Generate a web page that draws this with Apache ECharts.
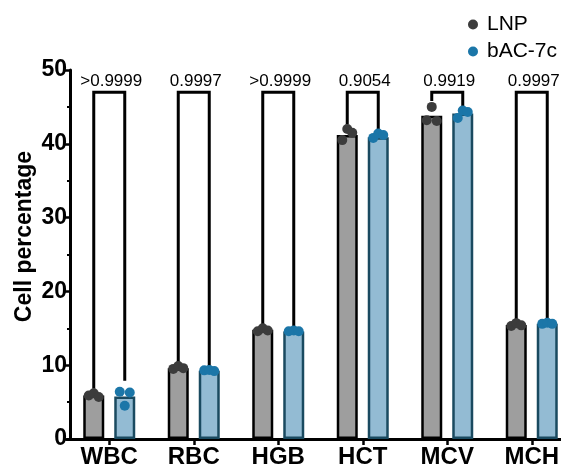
<!DOCTYPE html>
<html>
<head>
<meta charset="utf-8">
<script src="https://cdn.jsdelivr.net/npm/echarts@6/dist/echarts.min.js"></script>
<style>
  html, body { margin: 0; padding: 0; background: #fff; }
  #chart { width: 561px; height: 466px; }
</style>
</head>
<body>
<div id="chart"></div>
<script>
// Blood panel values per group (mean bars + three replicates each)
const categories = ['WBC', 'RBC', 'HGB', 'HCT', 'MCV', 'MCH'];
const lnpMean = [5.9, 9.6, 14.8, 41.2, 43.8, 15.45];
const bacMean = [5.75, 9.25, 14.55, 40.9, 44.1, 15.6];
const lnpPoints = [
  [5.9, 6.2, 5.7],
  [9.5, 9.9, 9.6],
  [14.6, 15.0, 14.7],
  [40.5, 42.0, 41.5],
  [43.2, 45.0, 43.1],
  [15.3, 15.7, 15.4]
];
const bacPoints = [
  [6.4, 4.5, 6.3],
  [9.3, 9.35, 9.2],
  [14.6, 14.7, 14.6],
  [40.8, 41.4, 41.2],
  [43.5, 44.5, 44.3],
  [15.6, 15.75, 15.6]
];
// Multiple-comparison p values and bracket geometry (in data units)
const pValues = ['>0.9999', '0.9997', '>0.9999', '0.9054', '0.9919', '0.9997'];
const bracketTop = 47;
const legLnp = [6.8, 10.2, 15.4, 42.6, 45.8, 16.1];
const legBac = [7.9, 9.8, 15.1, 41.8, 45.0, 16.3];
const yTicks = [0, 10, 20, 30, 40, 50];

const FONT = '"Liberation Sans", Arial, Helvetica, sans-serif';
const BAR_W = 21;
const BAR_GAP = 10;
const HALF = (BAR_W + BAR_GAP) / 2;   // bar centre offset from category centre
const JITTER = [-5, 0, 5];
const LNP_DOT = '#3c3c3c';
const BAC_DOT = '#1b76a8';

const chart = echarts.init(document.getElementById('chart'), null, { renderer: 'canvas' });

function dotSeries(name, points, side, color) {
  return {
    name: name,
    type: 'custom',
    z: 4,
    data: points.map((p, i) => [i].concat(p)),
    encode: { x: 0, y: [1, 2, 3] },
    renderItem: function (params, api) {
      const cat = api.value(0);
      const children = [];
      for (let k = 0; k < 3; k++) {
        const pt = api.coord([cat, api.value(k + 1)]);
        children.push({
          type: 'circle',
          shape: { cx: pt[0] + side * HALF + JITTER[k], cy: pt[1], r: 5 },
          style: { fill: color }
        });
      }
      return { type: 'group', children: children };
    }
  };
}

const option = {
  animation: false,
  backgroundColor: '#ffffff',
  grid: { left: 67, top: 70, width: 507, bottom: 27, containLabel: false, outerBoundsMode: 'none' },
  legend: {
    orient: 'vertical',
    left: 463,
    top: 9,
    itemWidth: 18,
    itemHeight: 10,
    itemGap: 6,
    icon: 'circle',
    selectedMode: false,
    textStyle: { fontFamily: FONT, fontSize: 21, color: '#000', lineHeight: 20 },
    data: [
      { name: 'LNP', itemStyle: { color: LNP_DOT } },
      { name: 'bAC-7c', itemStyle: { color: BAC_DOT } }
    ]
  },
  xAxis: {
    type: 'category',
    data: categories,
    boundaryGap: true,
    axisLine: { lineStyle: { color: '#000', width: 3 } },
    axisTick: { show: true, alignWithLabel: true, length: 6, lineStyle: { color: '#000', width: 2.5 } },
    axisLabel: { fontFamily: FONT, fontSize: 24, fontWeight: 'bold', color: '#000', margin: 6 },
    splitLine: { show: false }
  },
  yAxis: {
    type: 'value',
    min: yTicks[0],
    max: yTicks[yTicks.length - 1],
    interval: 10,
    offset: -3,
    name: 'Cell percentage',
    nameLocation: 'middle',
    nameGap: 34,
    nameMoveOverlap: false,
    nameTextStyle: { fontFamily: FONT, fontSize: 23, fontWeight: 'bold', color: '#000', padding: [0, 0, 0, 36] },
    axisLine: { show: true, lineStyle: { color: '#000', width: 3 } },
    axisTick: { show: true, length: 5, lineStyle: { color: '#000', width: 2.5 } },
    minorTick: { show: true, splitNumber: 2, length: 3, lineStyle: { color: '#000', width: 2 } },
    axisLabel: { fontFamily: FONT, fontSize: 23, fontWeight: 'bold', color: '#000', margin: 3 },
    splitLine: { show: false }
  },
  series: [
    {
      name: 'LNP mean',
      type: 'bar',
      data: lnpMean,
      barWidth: BAR_W,
      barGap: (BAR_GAP / BAR_W * 100).toFixed(1) + '%',
      itemStyle: { color: '#9e9e9e', borderColor: '#000', borderWidth: 2.5 },
      z: 2
    },
    {
      name: 'bAC-7c mean',
      type: 'bar',
      data: bacMean,
      barWidth: BAR_W,
      itemStyle: { color: '#93bbd3', borderColor: '#1a4a60', borderWidth: 2.5 },
      z: 2
    },
    dotSeries('LNP', lnpPoints, -1, LNP_DOT),
    dotSeries('bAC-7c', bacPoints, 1, BAC_DOT),
    {
      name: 'comparisons',
      type: 'custom',
      z: 3,
      data: categories.map((c, i) => [i, legLnp[i], legBac[i], bracketTop]),
      encode: { x: 0, y: [1, 2, 3] },
      renderItem: function (params, api) {
        const cat = api.value(0);
        const pL = api.coord([cat, api.value(1)]);
        const pR = api.coord([cat, api.value(2)]);
        const pT = api.coord([cat, api.value(3)]);
        const xL = pL[0] - HALF;
        const xR = pL[0] + HALF;
        return {
          type: 'group',
          children: [
            {
              type: 'polyline',
              shape: { points: [[xL, pL[1]], [xL, pT[1]], [xR, pT[1]], [xR, pR[1]]] },
              style: { stroke: '#000', lineWidth: 3, fill: null, lineJoin: 'miter' }
            },
            {
              type: 'text',
              x: pL[0] + 2,
              y: pT[1] - 11,
              style: {
                text: pValues[params.dataIndex],
                fontFamily: FONT,
                fontSize: 17,
                fill: '#000',
                align: 'center',
                verticalAlign: 'middle'
              }
            }
          ]
        };
      }
    }
  ]
};

chart.setOption(option);
</script>
</body>
</html>
